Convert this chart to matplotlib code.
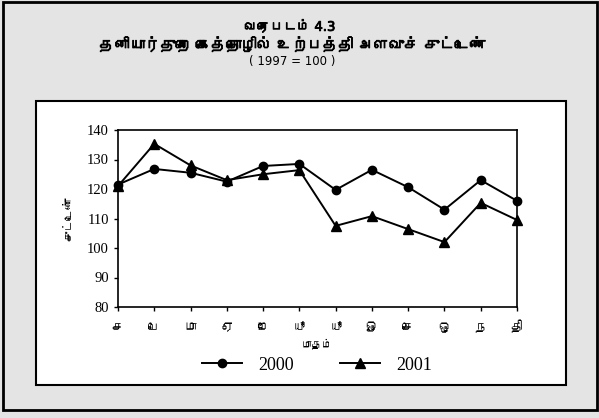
import matplotlib
matplotlib.use("Agg")
import matplotlib.pyplot as plt
import matplotlib.patheffects as pe
from matplotlib import font_manager
from matplotlib.ft2font import FT2Font
from matplotlib.patches import Rectangle

# data
months = ["ச", "பெ", "மா", "ஏ", "மே", "யூ", "யூ", "ஓ", "செ", "ஒ", "ந", "தி"]
index_2000 = [121.5, 126.8, 125.5, 122.5, 127.8, 128.5, 119.7, 126.5, 120.6, 113.0, 123.0, 116.0]
index_2001 = [121.0, 135.3, 128.0, 123.0, 125.0, 126.4, 107.5, 110.8, 106.4, 102.0, 115.3, 109.5]
y_ticks = [80, 90, 100, 110, 120, 130, 140]


def find_tamil_font():
    """ looks through the installed fonts for one that has Tamil letters

    :return: family name or None
    """
    for entry in font_manager.fontManager.ttflist:
        try:
            if 0x0BA4 in FT2Font(entry.fname).get_charmap():
                return entry.name
        except Exception:
            continue
    return None


tamil = find_tamil_font()
# DejaVu first so digits and spaces come from it, Tamil letters fall through to the Tamil font
tamil_family = ["DejaVu Sans", tamil] if tamil else ["DejaVu Sans"]
serif = "Liberation Serif"
fake_bold = [pe.withStroke(linewidth=0.6, foreground="black")]

fig = plt.figure(figsize=(5.99, 4.18), dpi=100)
fig.patch.set_facecolor("#e4e4e4")

# outer frame and inner white box of the scanned page
fig.patches.append(Rectangle((3 / 599, 1 - 410 / 418), 594 / 599, 408 / 418, transform=fig.transFigure,
                             fill=False, ec="black", lw=2.0, zorder=-2))
fig.patches.append(Rectangle((36 / 599, 1 - 385 / 418), 530 / 599, 284 / 418, transform=fig.transFigure,
                             fc="white", ec="black", lw=1.5, zorder=-1))

ax = fig.add_axes([118 / 599, 1 - 307 / 418, 399 / 599, 177 / 418])
ax.set_facecolor("white")
x = list(range(len(months)))

line1, = ax.plot(x, index_2000, color="black", lw=1.4, marker="o", ms=6, clip_on=False)
line2, = ax.plot(x, index_2001, color="black", lw=1.4, marker="^", ms=6.5, clip_on=False)

ax.set_xlim(0, len(months) - 1)
ax.set_ylim(80, 140)
ax.set_yticks(y_ticks)
ax.set_yticklabels([str(v) for v in y_ticks], fontfamily=serif, fontsize=10.5)
ax.set_xticks(x)
ax.set_xticklabels(months, fontfamily=tamil_family, fontsize=9)
ax.tick_params(direction="out", length=3, width=1, color="black")
ax.tick_params(axis="x", pad=7)
for s in ax.spines.values():
    s.set_linewidth(1.2)

ax.set_xlabel("மாதம்", fontfamily=tamil_family, fontsize=7.5, labelpad=3)
ax.set_ylabel("சுட்டெண்", fontfamily=tamil_family, fontsize=8, labelpad=10)

fig.legend([line1, line2], ["2000", "2001"], loc="center", bbox_to_anchor=(317 / 599, 1 - 365 / 418),
           ncol=2, frameon=False, handlelength=2.2, handletextpad=0.9, columnspacing=2.6,
           borderpad=0, prop={"family": serif, "size": 13})

fig.text(290 / 599, 1 - 27 / 418, "வரைபடம் 4.3", ha="center", va="center", fontsize=9.5,
         fontfamily=tamil_family, path_effects=fake_bold)
fig.text(292 / 599, 1 - 45 / 418, "தனியார்துறை கைத்தொழில் உற்பத்தி அளவுச் சுட்டெண்", ha="center",
         va="center", fontsize=11, fontfamily=tamil_family, path_effects=fake_bold)
fig.text(292 / 599, 1 - 61 / 418, "( 1997 = 100 )", ha="center", va="center", fontsize=8.5,
         fontfamily="DejaVu Sans")

fig.savefig("out.png", dpi=100, facecolor=fig.get_facecolor())
